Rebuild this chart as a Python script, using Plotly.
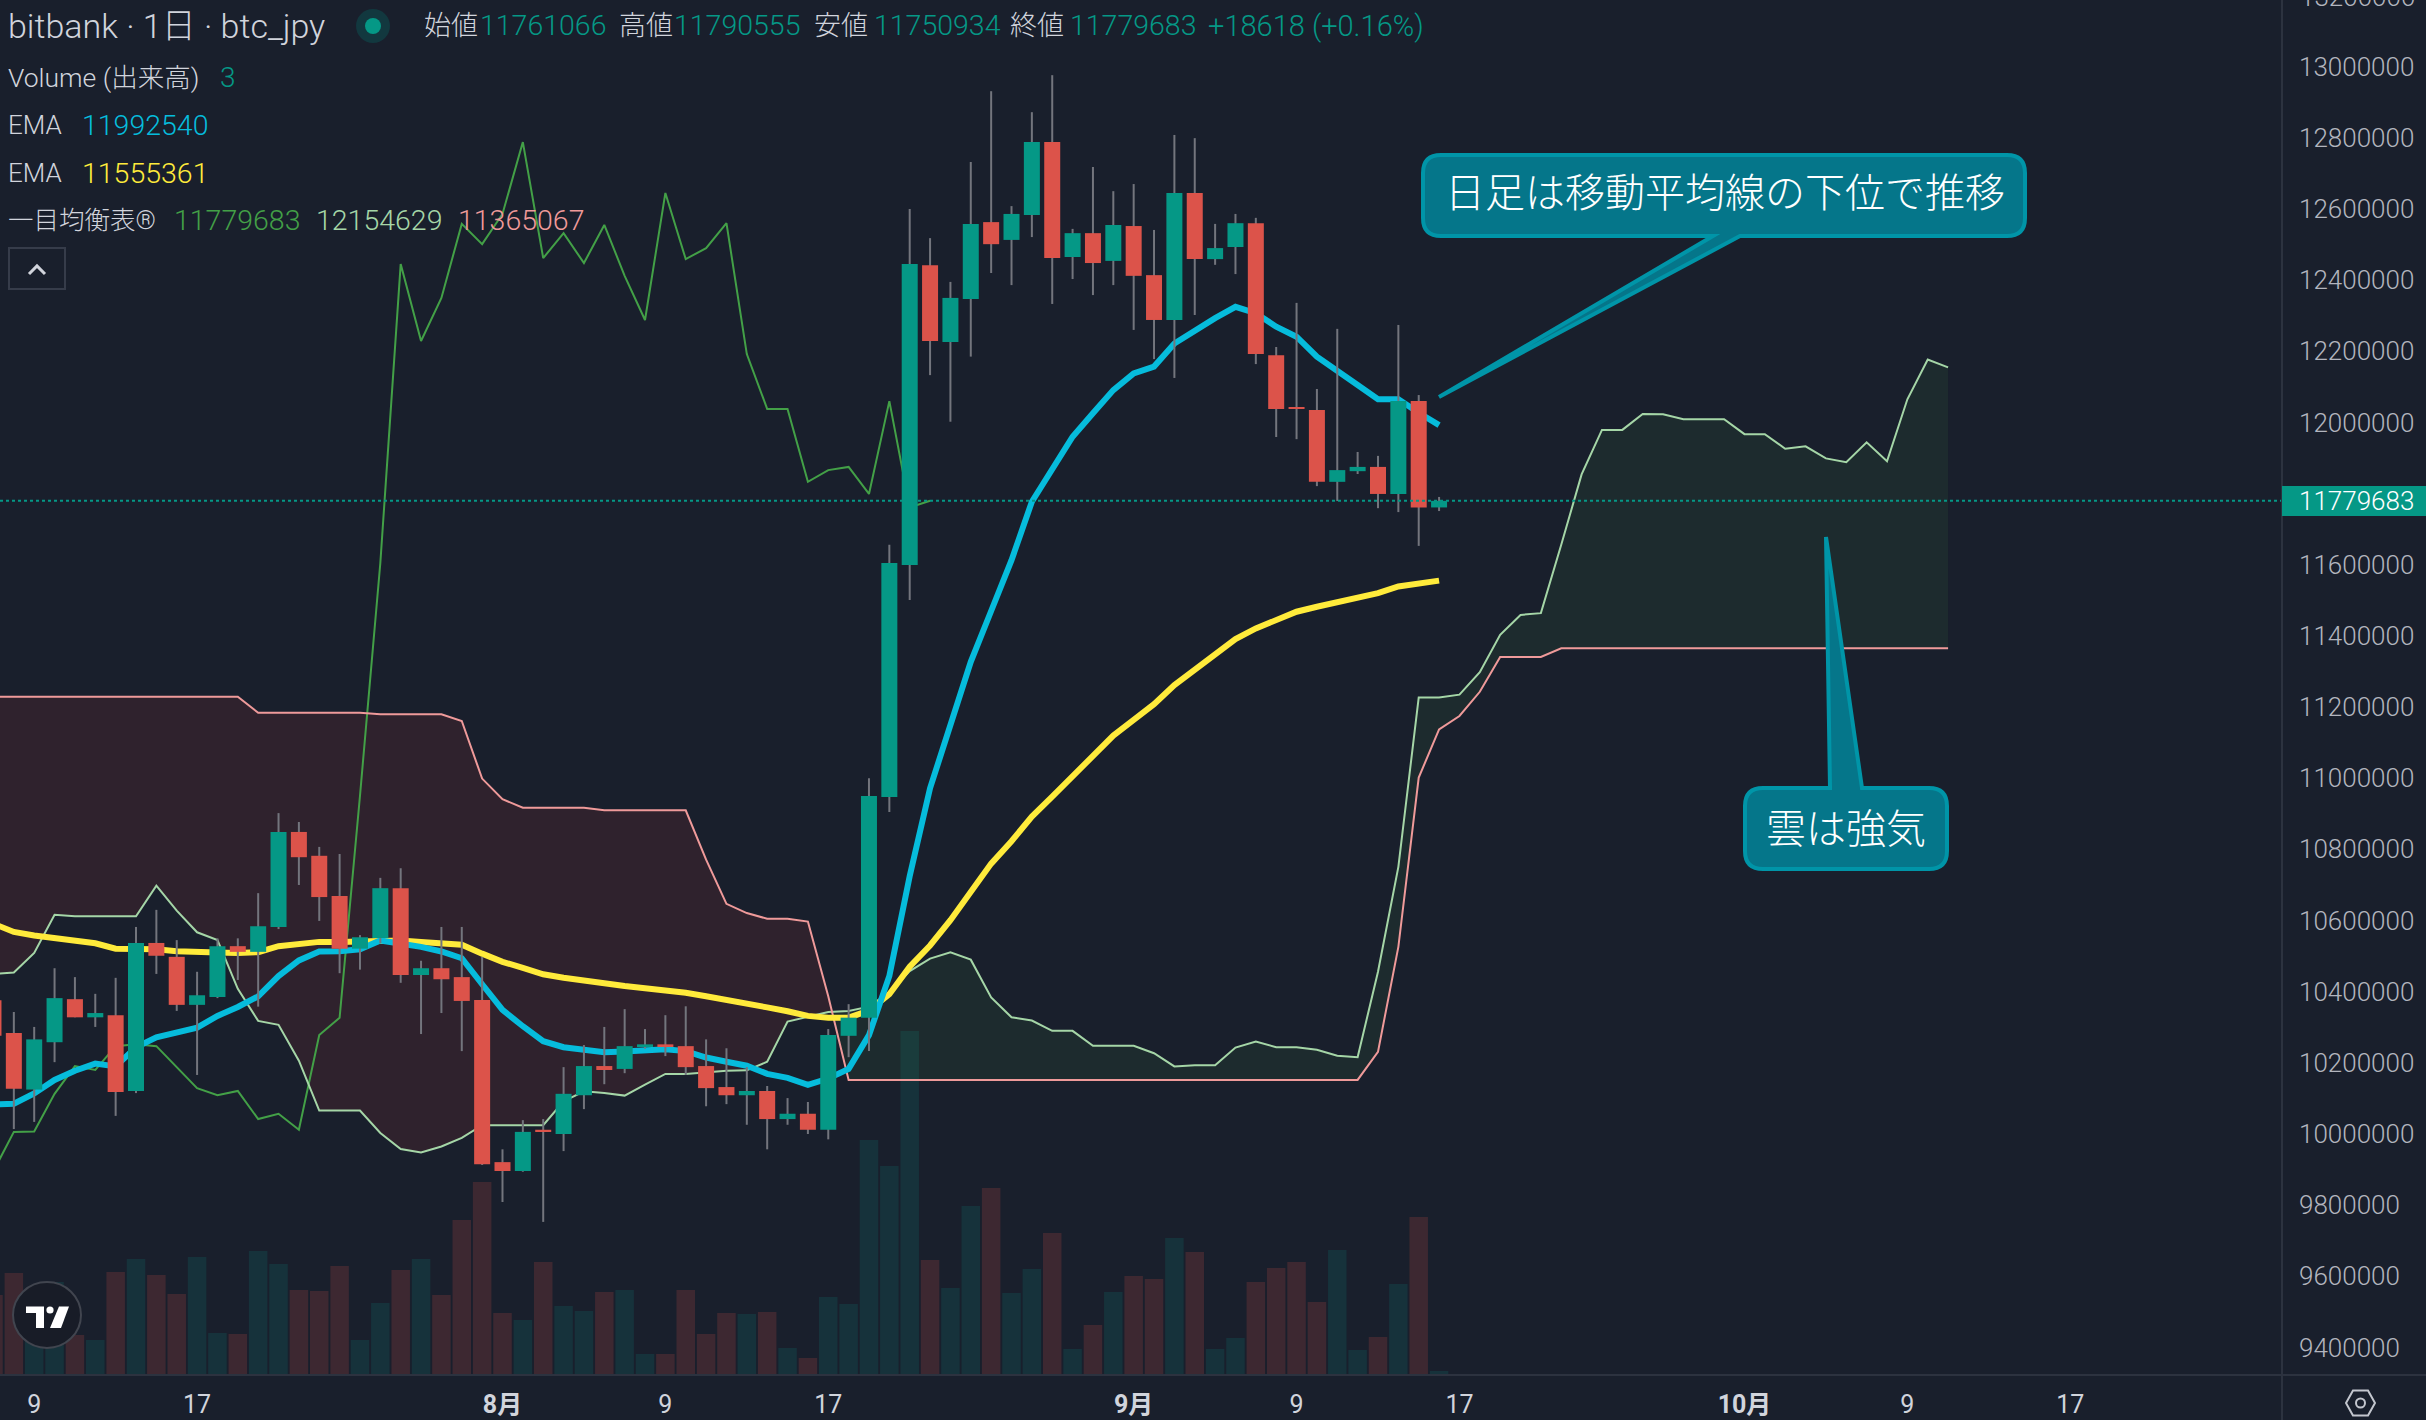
import numpy as np
import pandas as pd
import plotly.graph_objects as go

# prices are in thousands of JPY, one value per day from 7 July
open_k = [10376, 10284, 10125, 10258, 10379, 10328, 10334, 10121, 10537, 10498, 10363, 10385,
          10528, 10512, 10582, 10849, 10782, 10669, 10521, 10551, 10691, 10447, 10466, 10441,
          10377, 9921, 9896, 10012, 10000, 10109, 10191, 10183, 10247, 10252, 10247, 10191,
          10132, 10109, 10121, 10042, 10057, 10012, 10276, 10327, 10947, 11599, 12442, 12226,
          12347, 12563, 12513, 12583, 12788, 12465, 12532, 12454, 12552, 12414, 12288, 12645,
          12459, 12493, 12560, 12189, 12043, 12035, 11833, 11863, 11875, 11799, 12060, 11761.066]
high_k = [10420, 10343, 10301, 10466, 10441, 10394, 10439, 10582, 10630, 10545, 10456, 10550,
          10550, 10677, 10902, 10877, 10807, 10787, 10559, 10720, 10747, 10487, 10582, 10582,
          10498, 9957, 10039, 10042, 10188, 10250, 10301, 10351, 10295, 10334, 10359, 10266,
          10241, 10188, 10135, 10101, 10090, 10295, 10365, 11000, 11656, 12600, 12518, 12395,
          12732, 12931, 12608, 12872, 12976, 12544, 12718, 12650, 12670, 12541, 12808, 12799,
          12558, 12586, 12575, 12212, 12336, 12094, 12263, 11917, 11906, 12274, 12077, 11790.555]
low_k = [10230, 10014, 10034, 10202, 10328, 10301, 10051, 10115, 10450, 10346, 10166, 10382,
         10433, 10358, 10576, 10700, 10599, 10452, 10462, 10536, 10425, 10281, 10340, 10233,
         9913, 9809, 9894, 9753, 9952, 10070, 10140, 10171, 10240, 10219, 10166, 10078,
         10084, 10026, 9957, 10026, 10000, 9985, 10216, 10233, 10905, 11501, 12133, 12002,
         12185, 12420, 12386, 12521, 12333, 12403, 12358, 12386, 12260, 12178, 12125, 12302,
         12443, 12417, 12164, 11959, 11953, 11821, 11779, 11855, 11759, 11748, 11653, 11750.934]
close_k = [10276, 10127, 10266, 10382, 10328, 10340, 10118, 10537, 10501, 10363, 10390, 10528,
           10512, 10584, 10849, 10778, 10666, 10521, 10553, 10691, 10447, 10466, 10435, 10374,
           9915, 9896, 10006, 10007, 10113, 10191, 10180, 10247, 10252, 10247, 10188, 10129,
           10109, 10121, 10042, 10057, 10012, 10278, 10327, 10950, 11605, 12445, 12229, 12350,
           12558, 12501, 12586, 12788, 12462, 12532, 12448, 12555, 12412, 12288, 12645, 12459,
           12490, 12560, 12192, 12038, 12038, 11833, 11866, 11875, 11799, 12060, 11761, 11779.683]
volume = [80, 102, 62, 93, 40, 35, 103, 116, 100, 81, 118, 42,
          41, 124, 111, 85, 84, 109, 35, 72, 105, 116, 80, 155,
          193, 62, 55, 113, 69, 64, 83, 85, 21, 21, 85, 41,
          62, 61, 63, 27, 17, 78, 71, 235, 209, 344, 115, 87,
          169, 187, 82, 106, 142, 26, 50, 83, 99, 96, 137, 123,
          26, 37, 93, 107, 113, 73, 125, 25, 38, 91, 158, 4]
ema_fast_k = [10083, 10085, 10114, 10152, 10178, 10198, 10190, 10244, 10272, 10284, 10299, 10332,
              10357, 10387, 10444, 10488, 10513, 10514, 10519, 10544, 10536, 10526, 10513, 10494,
              10421, 10349, 10303, 10261, 10244, 10238, 10230, 10232, 10236, 10238, 10233, 10215,
              10203, 10192, 10169, 10158, 10138, 10156, 10183, 10278, 10444, 10725, 10972, 11152,
              11327, 11470, 11613, 11777, 11871, 11960, 12026, 12091, 12138, 12157, 12222, 12260,
              12293, 12325, 12307, 12269, 12241, 12185, 12143, 12105, 12065, 12065, 12027, 11992.54]
ema_slow_k = [10591, 10568, 10558, 10551, 10544, 10536, 10521, 10521, 10519, 10514, 10510, 10510,
              10509, 10511, 10528, 10536, 10540, 10540, 10541, 10545, 10544, 10540, 10537, 10532,
              10507, 10484, 10467, 10449, 10439, 10431, 10421, 10416, 10410, 10404, 10397, 10387,
              10378, 10369, 10356, 10345, 10332, 10327, 10327, 10347, 10393, 10470, 10530, 10601,
              10683, 10760, 10823, 10892, 10948, 11004, 11065, 11120, 11164, 11208, 11262, 11304,
              11348, 11391, 11421, 11445, 11468, 11482, 11496, 11509, 11520, 11539, 11547, 11555.361]
# lagging span, starts on 7 July too
chikou_k = [9896, 10006, 10007, 10113, 10191, 10180, 10247, 10252, 10247, 10188, 10129, 10109,
            10121, 10042, 10057, 10012, 10278, 10327, 10950, 11605, 12445, 12229, 12350, 12558,
            12501, 12586, 12788, 12462, 12532, 12448, 12555, 12412, 12288, 12645, 12459, 12490,
            12560, 12192, 12038, 12038, 11833, 11866, 11875, 11799, 12060, 11761, 11779.683]
# cloud runs 25 days past the last candle
senkou_a_k = [10450, 10454, 10509, 10616, 10612, 10612, 10612, 10612, 10698, 10628, 10567, 10545,
              10408, 10318, 10307, 10206, 10066, 10066, 10066, 10003, 9958, 9948, 9965, 9989,
              10025, 10025, 10025, 10025, 10092, 10120, 10115, 10108, 10139, 10169, 10169, 10174,
              10178, 10179, 10203, 10316, 10330, 10343, 10346, 10358, 10398, 10458, 10493, 10511,
              10490, 10384, 10328, 10319, 10290, 10290, 10248, 10248, 10248, 10227, 10190, 10193,
              10193, 10243, 10260, 10244, 10244, 10237, 10220, 10216, 10456, 10751, 11227, 11227,
              11235, 11298, 11403, 11459, 11464, 11656, 11854, 11979, 11979, 12024, 12023, 12009,
              12009, 12009, 11967, 11967, 11926, 11933, 11899, 11888, 11944, 11891, 12065, 12177, 12154.629]
senkou_b_k = [11229, 11229, 11229, 11229, 11229, 11229, 11229, 11229, 11229, 11229, 11229, 11229,
              11229, 11184, 11184, 11184, 11184, 11184, 11184, 11180, 11180, 11180, 11180, 11161,
              10999, 10941, 10917, 10917, 10917, 10917, 10910, 10910, 10910, 10910, 10910, 10771,
              10647, 10621, 10605, 10605, 10597, 10387, 10152, 10152, 10152, 10152, 10152, 10152,
              10152, 10152, 10152, 10152, 10152, 10152, 10152, 10152, 10152, 10152, 10152, 10152,
              10152, 10152, 10152, 10152, 10152, 10152, 10152, 10152, 10231, 10526, 11002, 11137,
              11175, 11243, 11341, 11341, 11341, 11365, 11365, 11365, 11365, 11365, 11365, 11365,
              11365, 11365, 11365, 11365, 11365, 11365, 11365, 11365, 11365, 11365, 11365, 11365, 11365.067]

last_price = 11779683
# 11800000 is hidden behind the last price tag
price_ticks = [9400000, 9600000, 9800000, 10000000, 10200000, 10400000, 10600000, 10800000, 11000000, 11200000,
               11400000, 11600000, 12000000, 12200000, 12400000, 12600000, 12800000, 13000000]
date_ticks = ["2024-07-09", "2024-07-17", "2024-08-01", "2024-08-09", "2024-08-17", "2024-09-01",
              "2024-09-09", "2024-09-17", "2024-10-01", "2024-10-09", "2024-10-17"]
date_labels = ["9", "17", "<b>8月</b>", "9", "17", "<b>9月</b>", "9", "17", "<b>10月</b>", "9", "17"]

BG = "#191f2c"
GREEN = "#059886"
RED = "#dc534a"
TXT = "#d1d4dc"
FONT = "Roboto, 'Noto Sans CJK JP', sans-serif"
W_PLOT, H_PLOT = 2282, 1375

dates = pd.date_range("2024-07-07", periods=len(senkou_a_k))
candle_dates = dates[:len(open_k)]
day_ms = 86400000

o = np.array(open_k) * 1000
h = np.array(high_k) * 1000
l = np.array(low_k) * 1000
c = np.array(close_k) * 1000
a = np.array(senkou_a_k) * 1000
b = np.array(senkou_b_k) * 1000
up = c >= o

# the cloud changes colour where the two spans cross
i_cross = np.where(a > b)[0][0]
t = (b[i_cross - 1] - a[i_cross - 1]) / ((b[i_cross - 1] - a[i_cross - 1]) + (a[i_cross] - b[i_cross]))
x_cross = dates[i_cross - 1] + pd.Timedelta(days=float(t))
y_cross = a[i_cross - 1] + t * (a[i_cross] - a[i_cross - 1])

fig = go.Figure()

# volume sits on its own hidden axis
fig.add_trace(go.Bar(x=candle_dates, y=volume, width=0.91 * day_ms, yaxis="y",
                     marker=dict(color=["#16323b" if u else "#3d2831" for u in up], line_width=0)))

# cloud
red_x = list(dates[:i_cross]) + [x_cross]
green_x = [x_cross] + list(dates[i_cross:])
fig.add_trace(go.Scatter(x=red_x, y=list(b[:i_cross]) + [y_cross], yaxis="y2", mode="lines",
                         line=dict(width=0)))
fig.add_trace(go.Scatter(x=red_x, y=list(a[:i_cross]) + [y_cross], yaxis="y2", mode="lines",
                         line=dict(width=0), fill="tonexty", fillcolor="rgba(244,67,54,0.1)"))
fig.add_trace(go.Scatter(x=green_x, y=[y_cross] + list(b[i_cross:]), yaxis="y2", mode="lines",
                         line=dict(width=0)))
fig.add_trace(go.Scatter(x=green_x, y=[y_cross] + list(a[i_cross:]), yaxis="y2", mode="lines",
                         line=dict(width=0), fill="tonexty", fillcolor="rgba(67,160,71,0.1)"))

fig.add_trace(go.Scatter(x=dates[:len(chikou_k)], y=np.array(chikou_k) * 1000, yaxis="y2", mode="lines",
                         line=dict(color="#43a047", width=2)))
fig.add_trace(go.Scatter(x=dates, y=a, yaxis="y2", mode="lines", line=dict(color="#a5d6a7", width=2)))
fig.add_trace(go.Scatter(x=dates, y=b, yaxis="y2", mode="lines", line=dict(color="#ef9a9a", width=2)))
fig.add_trace(go.Scatter(x=candle_dates, y=np.array(ema_slow_k) * 1000, yaxis="y2", mode="lines",
                         line=dict(color="#ffeb3b", width=6)))
fig.add_trace(go.Scatter(x=candle_dates, y=np.array(ema_fast_k) * 1000, yaxis="y2", mode="lines",
                         line=dict(color="#06bcdc", width=6)))

# wicks
wick_x, wick_y = [], []
for d, lo, hi in zip(candle_dates, l, h):
    wick_x += [d, d, None]
    wick_y += [lo, hi, None]
fig.add_trace(go.Scatter(x=wick_x, y=wick_y, yaxis="y2", mode="lines", line=dict(color="#73757d", width=2)))

# candle bodies on top of everything, bars always draw under scatter on one subplot
fig.add_trace(go.Bar(x=candle_dates, y=np.abs(c - o), base=np.minimum(o, c), width=0.786 * day_ms, yaxis="y3",
                     marker=dict(color=[GREEN if u else RED for u in up], line_width=0)))


def px(x):
    return x / W_PLOT


def py(y):
    return 1 - y / H_PLOT


def path(points, close=True):
    s = "M " + " L ".join(f"{px(x):.5f},{py(y):.5f}" for x, y in points)
    return s + (" Z" if close else "")


def callout(x0, y0, x1, y1, r, tail):
    # rounded box, tail is (side, xa, xb, xtip, ytip)
    side, xa, xb, xt, yt = tail
    p = lambda x, y: f"{px(x):.5f},{py(y):.5f}"
    s = f"M {p(x0 + r, y0)} "
    if side == "top":
        s += f"L {p(xa, y0)} L {p(xt, yt)} L {p(xb, y0)} "
    s += f"L {p(x1 - r, y0)} Q {p(x1, y0)} {p(x1, y0 + r)} L {p(x1, y1 - r)} Q {p(x1, y1)} {p(x1 - r, y1)} "
    if side == "bottom":
        s += f"L {p(xb, y1)} L {p(xt, yt)} L {p(xa, y1)} "
    s += f"L {p(x0 + r, y1)} Q {p(x0, y1)} {p(x0, y1 - r)} L {p(x0, y0 + r)} Q {p(x0, y0)} {p(x0 + r, y0)} Z"
    return dict(type="path", xref="paper", yref="paper", path=s, fillcolor="#05768a",
                line=dict(color="#0095a8", width=4))


def circle(cx, cy, rx, ry, fill, line_col=None, lw=0):
    return dict(type="circle", xref="paper", yref="paper", x0=px(cx - rx), x1=px(cx + rx), y0=py(cy + ry),
                y1=py(cy - ry), fillcolor=fill, line=dict(color=line_col or fill, width=lw))


def poly(points, fill):
    return dict(type="path", xref="paper", yref="paper", path=path(points), fillcolor=fill, line_width=0)


def label(x, y, text, color=TXT, size=28, anchor="left"):
    return dict(xref="paper", yref="paper", x=px(x), y=py(y), text=text, showarrow=False, xanchor=anchor,
                yanchor="middle", font=dict(family=FONT, size=size, color=color, weight=300))


shapes = [
    dict(type="line", xref="paper", yref="y2", x0=0, x1=1, y0=last_price, y1=last_price,
         line=dict(color=GREEN, width=2, dash="dot")),
    # axis frame
    dict(type="line", xref="paper", yref="paper", x0=1, x1=1, y0=py(1420), y1=1, line=dict(color="#2c323f", width=2)),
    dict(type="line", xref="paper", yref="paper", x0=0, x1=px(2426), y0=0, y1=0, line=dict(color="#2c323f", width=2)),
    # last price tag
    dict(type="rect", xref="paper", yref="paper", x0=1, x1=px(2426), y0=py(516), y1=py(486), fillcolor=GREEN, line_width=0),
    # status dot
    circle(373, 26, 17, 17, "#12383f"),
    circle(373, 26, 8, 8, GREEN),
    # collapse button
    dict(type="rect", xref="paper", yref="paper", x0=px(9), x1=px(65), y0=py(289), y1=py(248),
         fillcolor="rgba(0,0,0,0)", line=dict(color="#363c4a", width=2)),
    dict(type="path", xref="paper", yref="paper", path=path([(29, 274), (37, 266), (45, 274)], close=False),
         line=dict(color=TXT, width=3)),
    # callouts
    callout(1423, 155, 2025, 236, 18, ("bottom", 1713, 1740, 1439, 397)),
    callout(1745, 788, 1947, 869, 18, ("top", 1830, 1862, 1826, 537)),
    # tradingview badge
    circle(47, 1315, 34, 33, "#181c27", "#41454f", 2),
    poly([(26, 1306.5), (44, 1306.5), (44, 1328), (36, 1328), (36, 1313), (26, 1313)], "white"),
    circle(50, 1310, 3.6, 3.6, "white"),
    poly([(59, 1306.5), (69, 1306.5), (61, 1328), (50, 1328)], "white"),
    # settings hexagon
    dict(type="path", xref="paper", yref="paper",
         path=path([(2346, 1403), (2353, 1390.5), (2368, 1390.5), (2375, 1403), (2368, 1415.5), (2353, 1415.5)]),
         line=dict(color="#c3c6ce", width=2)),
    circle(2360.5, 1403, 4.5, 4.5, "rgba(0,0,0,0)", "#c3c6ce", 2),
]

annotations = [
    label(6, 26, "bitbank · 1日 · btc_jpy", size=34),
    label(422, 26, "始値", size=27), label(478, 26, "11761066", GREEN, 28.5),
    label(617, 26, "高値", size=27), label(672, 26, "11790555", GREEN, 28.5),
    label(812, 26, "安値", size=27), label(872, 26, "11750934", GREEN, 28.5),
    label(1008, 26, "終値", size=27), label(1068, 26, "11779683", GREEN, 28.5),
    label(1206, 26, "+18618 (+0.16%)", GREEN, 29),
    label(6, 77, "Volume (出来高)", size=26.5), label(218, 77, "3", GREEN),
    label(6, 125, "EMA", size=26), label(80, 125, "11992540", "#06bcdc", 28.5),
    label(6, 173, "EMA", size=26), label(80, 173, "11555361", "#ffeb3b", 28.5),
    label(6, 220, "一目均衡表®", size=25.5), label(172, 220, "11779683", "#43a047", 28.5),
    label(314, 220, "12154629", "#a5d6a7", 28.5), label(456, 220, "11365067", "#ef9a9a", 28.5),
    label(1725, 193, "日足は移動平均線の下位で推移", "white", 40, "center"),
    label(1846, 829, "雲は強気", "white", 40, "center"),
    label(2297, 501, f"{last_price}", "white", 26),
    label(2298, -3, "13200000", "#b2b5be", 26),
]

fig.update_layout(
    width=2426, height=1420,
    margin=dict(l=0, r=2426 - W_PLOT, t=0, b=1420 - H_PLOT),
    paper_bgcolor=BG, plot_bgcolor=BG,
    showlegend=False, hovermode=False, barmode="overlay",
    shapes=shapes, annotations=annotations,
    xaxis=dict(type="date", range=["2024-07-07 07:41", "2024-10-27 09:36"], tickmode="array", tickvals=date_ticks,
               ticktext=date_labels, showgrid=False, zeroline=False, ticks="", ticklabelstandoff=12,
               tickfont=dict(family=FONT, size=25, color=TXT)),
    yaxis=dict(range=[0, 1375], visible=False),
    yaxis2=dict(range=[9322700, 13187300], overlaying="y", side="right", anchor="x", tickmode="array",
                tickvals=price_ticks, ticktext=[str(v) for v in price_ticks], showgrid=False, zeroline=False,
                ticks="", ticklabelstandoff=16, tickfont=dict(family=FONT, size=26, color="#b2b5be", weight=300)),
    yaxis3=dict(range=[9322700, 13187300], overlaying="y", visible=False),
)

fig.write_html("out.html", config=dict(displayModeBar=False),
               post_script="document.body.style.margin='0';document.body.style.background='" + BG + "';")
